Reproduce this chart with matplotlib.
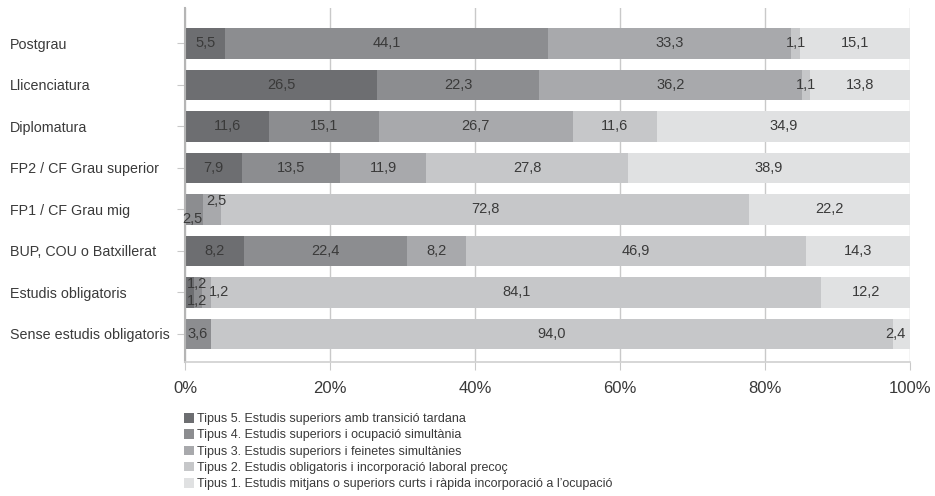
"""Stacked 100% horizontal bars: transition types by education level."""

import matplotlib.pyplot as plt
from matplotlib.patches import Patch
import numpy as np

plt.rcParams.update(
    {
        "font.family": ["Liberation Sans", "DejaVu Sans"],
        "axes.unicode_minus": False,
    }
)

INK = "#3a3a3a"
GRID = "#c9c9c9"

categories = [
    "Postgrau",
    "Llicenciatura",
    "Diplomatura",
    "FP2 / CF Grau superior",
    "FP1 / CF Grau mig",
    "BUP, COU o Batxillerat",
    "Estudis obligatoris",
    "Sense estudis obligatoris",
]

series_names = [
    "Tipus 5. Estudis superiors amb transició tardana",
    "Tipus 4. Estudis superiors i ocupació simultània",
    "Tipus 3. Estudis superiors i feinetes simultànies",
    "Tipus 2. Estudis obligatoris i incorporació laboral precoç",
    "Tipus 1. Estudis mitjans o superiors curts i ràpida incorporació a l’ocupació",
]

tipus5 = [5.5, 26.5, 11.6, 7.9, 0.0, 8.2, 1.2, 0.0]
tipus4 = [44.1, 22.3, 15.1, 13.5, 2.5, 22.4, 1.2, 3.6]
tipus3 = [33.3, 36.2, 26.7, 11.9, 2.5, 8.2, 1.2, 0.0]
tipus2 = [1.1, 1.1, 11.6, 27.8, 72.8, 46.9, 84.1, 94.0]
tipus1 = [15.1, 13.8, 34.9, 38.9, 22.2, 14.3, 12.2, 2.4]

colors = ["#6d6e71", "#8c8d90", "#a8a9ac", "#c6c7c9", "#e0e1e2"]

# nudges (in % units, rows) for labels on slivers: (row, series) -> (dx, dy)
label_nudge = {
    (4, 1): (-0.2, 0.22),
    (4, 2): (0.6, -0.2),
    (6, 0): (1.0, -0.2),
    (6, 1): (-0.15, 0.2),
    (6, 2): (1.7, 0.0),
    (7, 4): (-0.8, 0.0),
}


def _fmt(v):
    return f"{v:.1f}".replace(".", ",")


def main():
    data = np.array([tipus5, tipus4, tipus3, tipus2, tipus1])
    shares = data / data.sum(axis=0) * 100
    y = np.arange(len(categories))

    fig = plt.figure(figsize=(9.35, 4.96), dpi=100)
    ax = fig.add_axes([185 / 935, 1 - 362 / 496, 725 / 935, 354 / 496])

    left = np.zeros(len(categories))
    for s, (vals, pct) in enumerate(zip(data, shares)):
        ax.barh(y, pct, left=left, height=0.73, color=colors[s], zorder=2)
        for r in range(len(categories)):
            if vals[r] <= 0:
                continue
            dx, dy = label_nudge.get((r, s), (0.0, 0.0))
            ax.text(
                left[r] + pct[r] / 2 + dx,
                y[r] + dy,
                _fmt(vals[r]),
                ha="center",
                va="center",
                fontsize=10.5,
                color=INK,
                zorder=3,
            )
        left += pct

    ax.set_xlim(0, 100)
    ax.set_ylim(7.675, -0.855)
    ax.set_yticks(y)
    ax.set_yticklabels(categories, fontsize=10.3, color=INK, ha="left")
    ax.set_xticks([0, 20, 40, 60, 80, 100])
    ax.set_xticklabels(["0%", "20%", "40%", "60%", "80%", "100%"], fontsize=12, color=INK)
    ax.tick_params(axis="x", length=6, color=GRID, pad=8)
    # labels start ~10 px from the figure's left edge
    ax.tick_params(axis="y", length=6, color=GRID, pad=120)
    ax.grid(axis="x", color=GRID, linewidth=1, zorder=0)
    for sp in ("top", "right"):
        ax.spines[sp].set_visible(False)
    ax.spines["left"].set_color("#b5b5b5")
    ax.spines["left"].set_linewidth(1.5)
    ax.spines["bottom"].set_color("#d0d0d0")
    ax.spines["bottom"].set_linewidth(1.2)

    handles = [Patch(facecolor=c, edgecolor="none") for c in colors]
    fig.legend(
        handles,
        series_names,
        loc="upper left",
        bbox_to_anchor=(184 / 935, 1 - 413 / 496),
        frameon=False,
        fontsize=9,
        handlelength=0.8,
        handleheight=0.8,
        handletextpad=0.25,
        labelspacing=0.33,
        borderaxespad=0,
        borderpad=0,
        labelcolor=INK,
    )

    fig.savefig("out.png", dpi=100, facecolor="white")
    plt.close(fig)


if __name__ == "__main__":
    main()
